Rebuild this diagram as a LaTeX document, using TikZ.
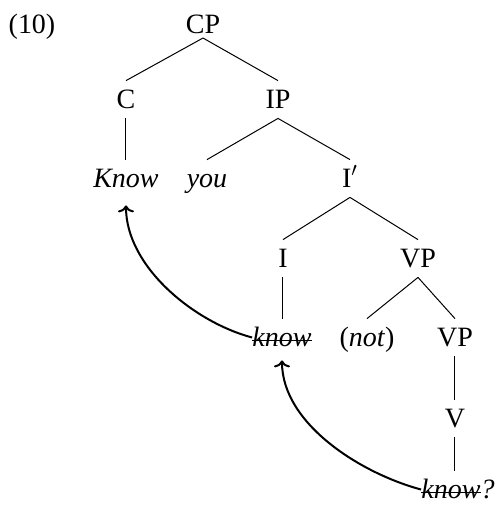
\documentclass[tikz,border=0pt]{standalone}
\usepackage{fontspec}
\setmainfont{Liberation Serif}
\usetikzlibrary{arrows.meta}
% struck-through word (trace of a moved head)
\newsavebox\strkbox
\newcommand\struck[1]{\sbox\strkbox{#1}\rlap{\rule[0.38ex]{\wd\strkbox}{0.5pt}}\usebox\strkbox}
\begin{document}
\begin{tikzpicture}[x=0.5pt,y=-0.5pt,
  lbl/.style={anchor=base, inner sep=0pt, text height=13.5pt, text depth=5pt,
              font=\fontsize{14}{16}\selectfont},
  edge/.style={line width=0.5pt},
  mv/.style={line width=1pt, looseness=0.85, -{To[length=3.5pt,width=8pt]}}]
\useasboundingbox (0,0) rectangle (498,511);

% example number
\node[lbl] (ex) at (32,33) {(10)};

% tree labels
\node[lbl] (CP)    at (203,33)  {CP};
\node[lbl] (C)     at (126,108) {C};
\node[lbl] (IP)    at (278,108) {IP};
\node[lbl] (Know)  at (126,187) {\itshape Know};
\node[lbl] (you)   at (207,187) {\itshape you};
\node[lbl] (Ibar)  at (350,187) {I$'$};
\node[lbl] (I)     at (283,267) {I};
\node[lbl] (VP)    at (418,267) {VP};
\node[lbl] (know)  at (282,346) {\itshape\struck{know}};
\node[lbl] (not)   at (367,346) {(\textit{not})};
\node[lbl] (VPb)   at (455,346) {VP};
\node[lbl] (V)     at (455,427) {V};
\node[lbl] (knowq) at (458,498) {\itshape\struck{know}?};

% branches
\coordinate (CPs) at ([yshift=-2.5pt]CP.base);
\draw[edge] (CPs) -- (C.north);
\draw[edge] (CPs) -- (IP.north);
\draw[edge] (C.south) -- (Know.north);
\draw[edge] (IP.south) -- (you.north);
\draw[edge] (IP.south) -- (Ibar.north);
\draw[edge] (Ibar.south) -- (I.north);
\draw[edge] (Ibar.south) -- (VP.north);
\draw[edge] (I.south) -- (I.south |- know.north);
\draw[edge] (VP.south) -- (not.north);
\draw[edge] (VP.south) -- (VPb.north);
\draw[edge] (VPb.south) -- (V.north);
\draw[edge] (V.south) -- (V.south |- knowq.north);

% head movement
\draw[mv] (know.west) to[out=165,in=-90] ([yshift=-4pt]Know.south);
\draw[mv] (knowq.west) to[out=165,in=-90] ([yshift=-2pt]know.south);
\end{tikzpicture}
\end{document}
